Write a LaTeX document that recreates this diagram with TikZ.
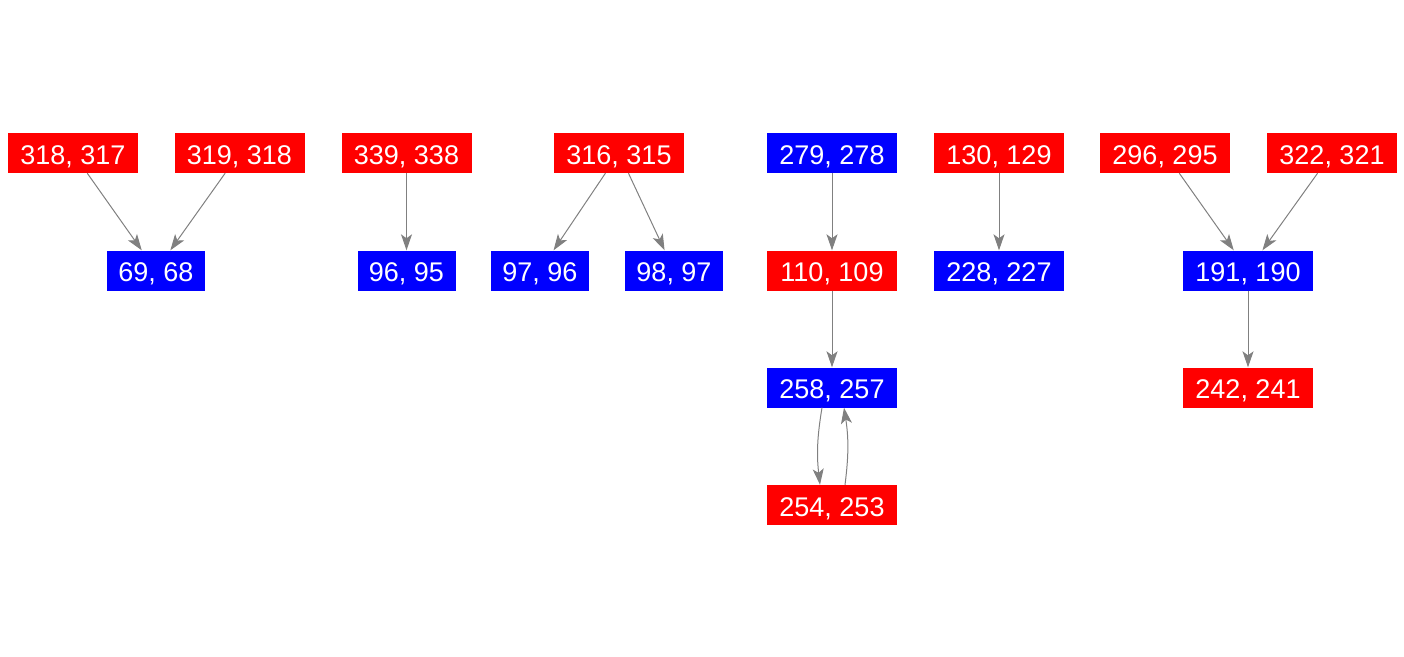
\documentclass[tikz,border=0pt]{standalone}
\usepackage{fontspec}
\setmainfont{Liberation Sans}
\usetikzlibrary{arrows.meta}
\definecolor{nred}{RGB}{255,0,0}
\definecolor{nblue}{RGB}{0,0,255}
\definecolor{egray}{RGB}{128,128,128}
\tikzset{
  box/.style={inner sep=0pt, minimum height=40pt, text height=22.5pt, text depth=0pt, text=white, font=\fontsize{27}{30}\selectfont},
  wide/.style={box, minimum width=130pt},
  narrow/.style={box, minimum width=98pt},
  rbox/.style={fill=nred},
  bbox/.style={fill=nblue},
  edge/.style={draw=egray, line width=1pt, -{Stealth[length=16pt,width=11pt,inset=4pt]}},
}
\begin{document}
\begin{tikzpicture}[x=1pt,y=1pt]
\useasboundingbox (0,0) rectangle (1404,-656);
\node[wide,rbox] (a1) at (73,-153) {318, 317};
\node[wide,rbox] (a2) at (239.5,-153) {319, 318};
\node[narrow,bbox] (a3) at (156,-270.5) {69, 68};
\node[wide,rbox] (b1) at (406.5,-153) {339, 338};
\node[narrow,bbox] (b2) at (406.5,-270.5) {96, 95};
\node[wide,rbox] (c1) at (619,-153) {316, 315};
\node[narrow,bbox] (c2) at (540,-270.5) {97, 96};
\node[narrow,bbox] (c3) at (674,-270.5) {98, 97};
\node[wide,bbox] (d1) at (832,-153) {279, 278};
\node[wide,rbox] (d2) at (832,-270.5) {110, 109};
\node[wide,bbox] (d3) at (832,-387.5) {258, 257};
\node[wide,rbox] (d4) at (832,-505) {254, 253};
\node[wide,rbox] (e1) at (999,-153) {130, 129};
\node[wide,bbox] (e2) at (999,-270.5) {228, 227};
\node[wide,rbox] (f1) at (1165,-153) {296, 295};
\node[wide,rbox] (f2) at (1332,-153) {322, 321};
\node[wide,bbox] (f3) at (1248,-270.5) {191, 190};
\node[wide,rbox] (f4) at (1248,-387.5) {242, 241};
\draw[edge] (a1) -- (a3);
\draw[edge] (a2) -- (a3);
\draw[edge] (b1) -- (b2);
\draw[edge] (c1) -- (c2);
\draw[edge] (c1) -- (c3);
\draw[edge] (d1) -- (d2);
\draw[edge] (d2) -- (d3);
\draw[edge] ([xshift=-10pt]d3.south) to[bend right=8] ([xshift=-12pt]d4.north);
\draw[edge] ([xshift=13pt]d4.north) to[bend right=8] ([xshift=12pt]d3.south);
\draw[edge] (e1) -- (e2);
\draw[edge] (f1) -- (f3);
\draw[edge] (f2) -- (f3);
\draw[edge] (f3) -- (f4);
\end{tikzpicture}
\end{document}
